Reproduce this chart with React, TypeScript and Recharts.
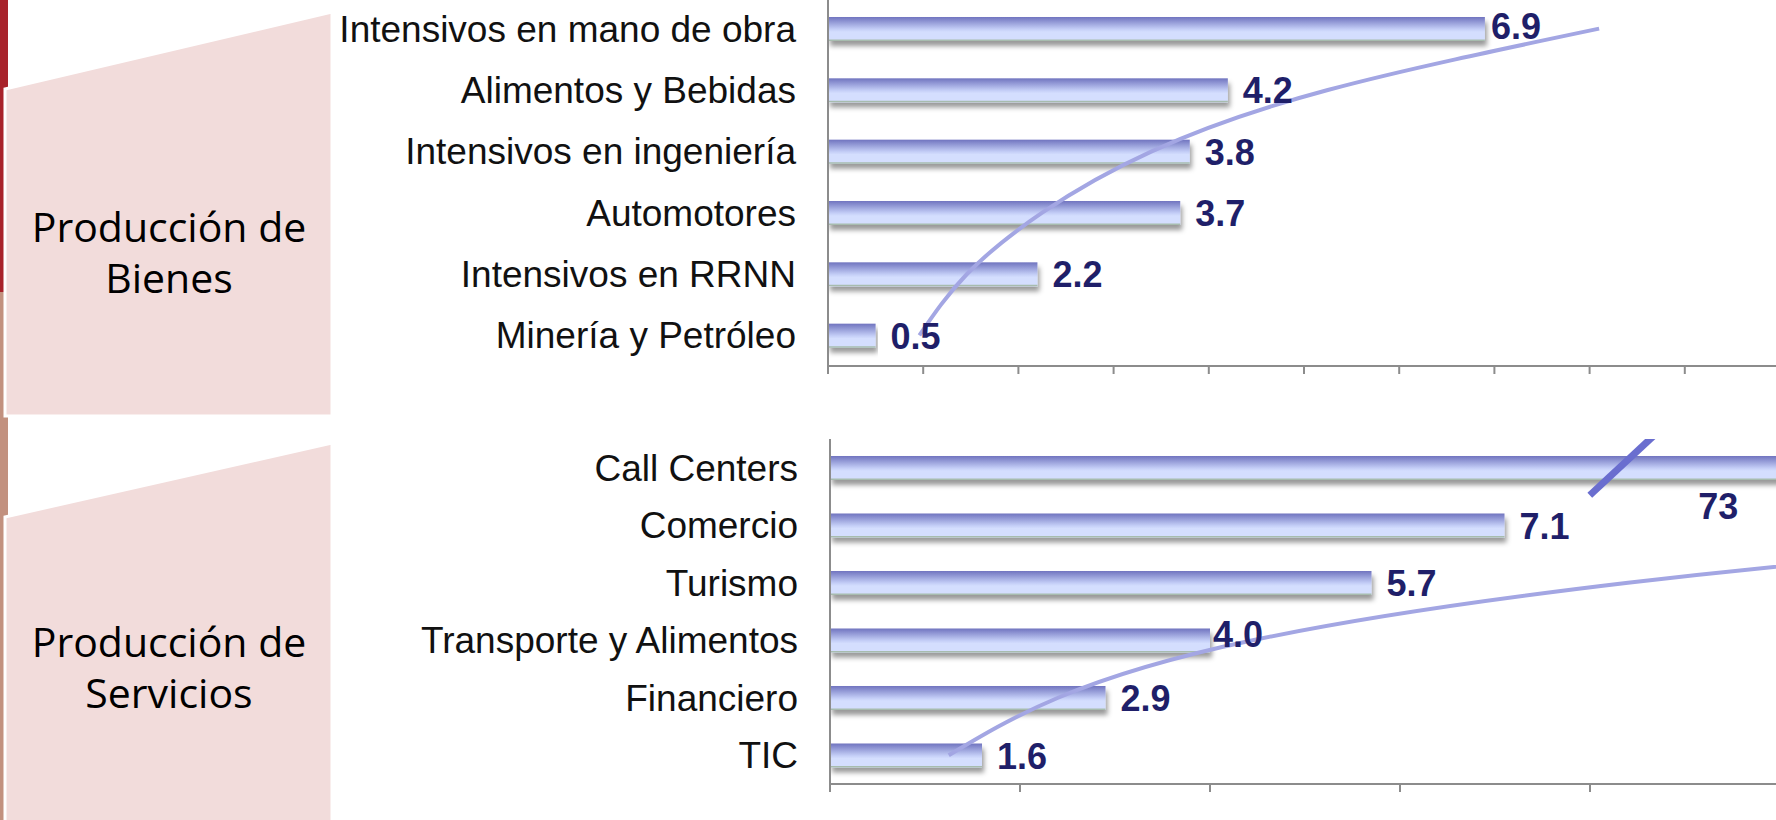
import React from "react";
import {
  ComposedChart,
  Bar,
  Line,
  XAxis,
  YAxis,
  LabelList,
  ReferenceDot,
} from "recharts";

const AXIS = "#8c8c8c";
const TREND = "#a3a6e3";
const LABEL = "#1f1f69";
const SLASH = "#6a6ecf";
const PANEL = "#f2dcdb";
const SANS = "'Liberation Sans', Arial, sans-serif";

// Producción de Bienes, top to bottom
const goodsCategories = [
  "Intensivos en mano de obra",
  "Alimentos y Bebidas",
  "Intensivos en ingeniería",
  "Automotores",
  "Intensivos en RRNN",
  "Minería y Petróleo",
];
const goodsValues = [6.9, 4.2, 3.8, 3.7, 2.2, 0.5];
const goodsTrend = [8.1, 5.25, 3.4, 2.25, 1.46, 0.96];
const goodsTicks = [0, 1, 2, 3, 4, 5, 6, 7, 8, 9, 10];

// Producción de Servicios, top to bottom
const serviceCategories = [
  "Call Centers",
  "Comercio",
  "Turismo",
  "Transporte y Alimentos",
  "Financiero",
  "TIC",
];
const serviceValues = [73, 7.1, 5.7, 4.0, 2.9, 1.6];
const serviceTrend = [30, 15.9, 8.4, 4.45, 2.4, 1.25];
const serviceTicks = [0, 2, 4, 6, 8, 10];

const AXIS_MAX = 10;
const BREAK_AT = 8.34; // where the broken Call Centers bar is cut
const BREAK_LABEL_AT = 9.35;

const goodsRows = goodsCategories.map((name, i) => ({
  name,
  value: goodsValues[i],
  trend: goodsTrend[i],
}));
const serviceRows = serviceCategories.map((name, i) => ({
  name,
  value: serviceValues[i],
  trend: serviceTrend[i],
}));

// small hand nudges for labels that sit off the default spot
const goodsNudges: Record<number, { dx: number; dy: number }> = {
  0: { dx: -9, dy: -3 },
};
const serviceNudges: Record<number, { dx: number; dy: number }> = {
  3: { dx: -12, dy: -7 },
};

const noTickLabel = () => <g />;

const barShape = (id: string) => (props: any) => {
  const { x, y, width, height } = props;
  if (!width || width <= 0) return <g />;
  return (
    <g>
      <rect
        x={x}
        y={y}
        width={width}
        height={height}
        fill={`url(#grad-${id})`}
        filter={`url(#shadow-${id})`}
      />
      <line
        x1={x}
        x2={x + width}
        y1={y + height - 0.75}
        y2={y + height - 0.75}
        stroke="#a7bcae"
        strokeWidth={1.5}
      />
    </g>
  );
};

const valueLabel =
  (nudges: Record<number, { dx: number; dy: number }>) => (props: any) => {
    const vb = props.viewBox || props;
    const { x, y, width, height } = vb;
    const v = Number(props.value);
    if (v > AXIS_MAX) return null;
    const n = nudges[props.index] || { dx: 0, dy: 0 };
    return (
      <text
        x={x + width + 15 + n.dx}
        y={y + height / 2 + 13 + n.dy}
        fill={LABEL}
        fontSize={36}
        fontWeight="bold"
        fontFamily={SANS}
      >
        {v.toFixed(1)}
      </text>
    );
  };

function Defs({ id }: { id: string }) {
  return (
    <defs>
      <linearGradient id={`grad-${id}`} x1="0" y1="0" x2="0" y2="1">
        <stop offset="0" stopColor="#7074bf" />
        <stop offset="0.5" stopColor="#c3cdf6" />
        <stop offset="0.62" stopColor="#d4defe" />
        <stop offset="1" stopColor="#d4defe" />
      </linearGradient>
      <filter id={`shadow-${id}`} x="-5%" y="-50%" width="110%" height="250%">
        <feDropShadow dx="2" dy="5" stdDeviation="2.5" floodColor="#000" floodOpacity="0.4" />
      </filter>
    </defs>
  );
}

function HBarChart({
  id,
  rows,
  ticks,
  axisX,
  height,
  nudges,
  extras,
}: {
  id: string;
  rows: { name: string; value: number; trend: number }[];
  ticks: number[];
  axisX: number;
  height: number;
  nudges: Record<number, { dx: number; dy: number }>;
  extras?: React.ReactNode;
}) {
  return (
    <ComposedChart
      layout="vertical"
      width={1780}
      height={height}
      data={rows}
      margin={{ top: 0, right: 0, bottom: 0, left: 0 }}
    >
      <Defs id={id} />
      <XAxis
        type="number"
        domain={[0, AXIS_MAX]}
        ticks={ticks}
        allowDataOverflow
        interval={0}
        tick={noTickLabel}
        tickSize={8}
        height={12}
        axisLine={{ stroke: AXIS, strokeWidth: 2 }}
        tickLine={{ stroke: AXIS, strokeWidth: 2 }}
      />
      <YAxis
        type="category"
        dataKey="name"
        width={axisX}
        interval={0}
        tickLine={false}
        tickSize={0}
        tickMargin={32}
        axisLine={{ stroke: AXIS, strokeWidth: 2 }}
        tick={{ fill: "#111", fontSize: 37, fontFamily: SANS }}
      />
      <Bar dataKey="value" barSize={24} shape={barShape(id)} isAnimationActive={false}>
        <LabelList dataKey="value" content={valueLabel(nudges)} />
      </Bar>
      <Line
        dataKey="trend"
        type="natural"
        stroke={TREND}
        strokeWidth={4}
        dot={false}
        activeDot={false}
        isAnimationActive={false}
      />
      {extras}
    </ComposedChart>
  );
}

function SidePanels() {
  const txt = {
    fontFamily: "'Open Sans', sans-serif",
    fontSize: 41,
    fill: "#000",
    textAnchor: "middle" as const,
  };
  return (
    <svg width={340} height={820} style={{ position: "absolute", left: 0, top: 0 }}>
      <rect x={0} y={0} width={8} height={292} fill="#a8232b" />
      <rect x={0} y={292} width={8} height={528} fill="#c2917f" />
      <polygon points="5,89 332,12 332,416 5,416" fill={PANEL} stroke="#fff" strokeWidth={3} />
      <polygon points="5,517 332,443 332,824 5,824" fill={PANEL} stroke="#fff" strokeWidth={3} />
      <text x={169} y={242} {...txt}>Producción de</text>
      <text x={169} y={293} {...txt}>Bienes</text>
      <text x={169} y={657} {...txt}>Producción de</text>
      <text x={169} y={708} {...txt}>Servicios</text>
    </svg>
  );
}

export default function App() {
  const breakSlash = (p: any) => (
    <line
      x1={p.cx - 32.5}
      y1={p.cy + 27.5}
      x2={p.cx + 32.5}
      y2={p.cy - 33}
      stroke={SLASH}
      strokeWidth={7}
    />
  );
  const bigLabel = (p: any) => (
    <text
      x={p.cx}
      y={p.cy + 51}
      textAnchor="middle"
      fill={LABEL}
      fontSize={36}
      fontWeight="bold"
      fontFamily={SANS}
    >
      {serviceValues[0]}
    </text>
  );

  return (
    <div
      style={{
        position: "absolute",
        left: 0,
        top: 0,
        width: 1776,
        height: 820,
        overflow: "hidden",
        background: "#fff",
      }}
    >
      <SidePanels />
      <div style={{ position: "absolute", left: 0, top: -2 }}>
        <HBarChart
          id="goods"
          rows={goodsRows}
          ticks={goodsTicks}
          axisX={828}
          height={380}
          nudges={goodsNudges}
        />
      </div>
      <div style={{ position: "absolute", left: 0, top: 439 }}>
        <HBarChart
          id="services"
          rows={serviceRows}
          ticks={serviceTicks}
          axisX={830}
          height={357}
          nudges={serviceNudges}
          extras={[
            <ReferenceDot
              key="slash"
              x={BREAK_AT}
              y="Call Centers"
              r={0}
              shape={breakSlash}
            />,
            <ReferenceDot
              key="lbl"
              x={BREAK_LABEL_AT}
              y="Call Centers"
              r={0}
              shape={bigLabel}
            />,
          ]}
        />
      </div>
    </div>
  );
}
